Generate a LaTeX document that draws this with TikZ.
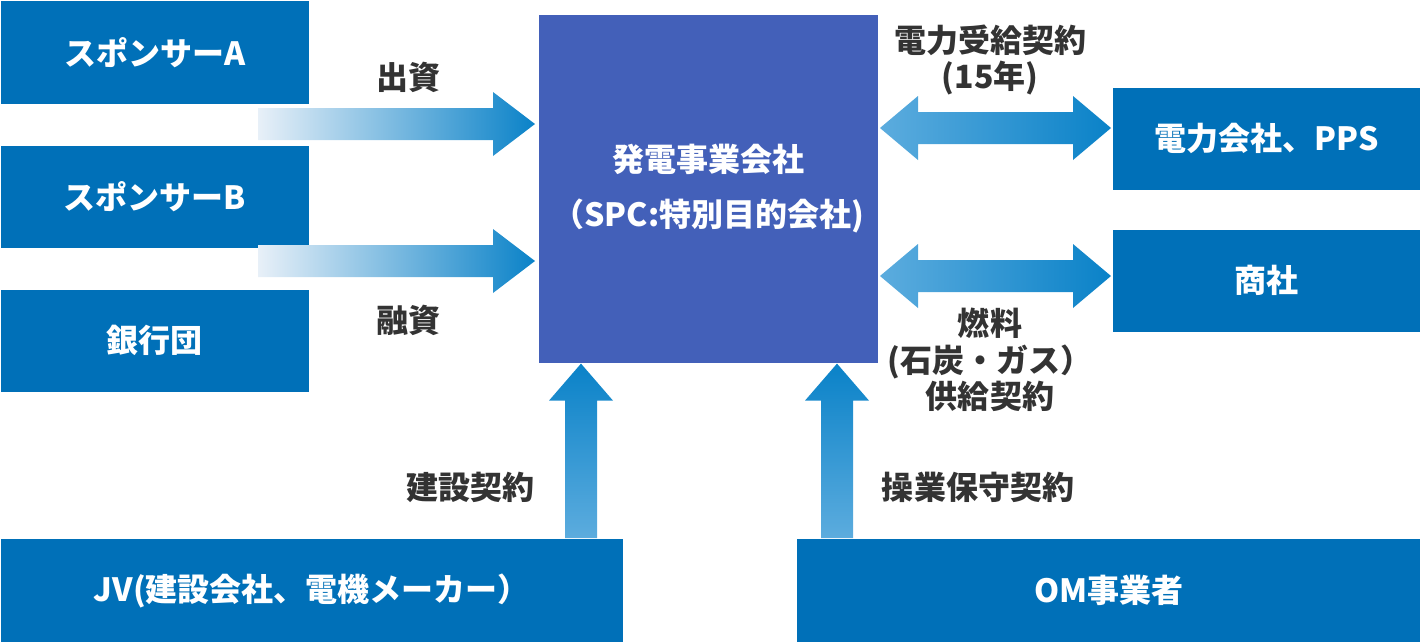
\documentclass[tikz,border=0pt]{standalone}
\usepackage{fontspec}
\setmainfont{Noto Sans CJK JP}
\usetikzlibrary{calc}
\definecolor{boxblue}{RGB}{0,112,184}
\definecolor{spcblue}{RGB}{67,96,185}
\definecolor{darkflow}{RGB}{10,130,200}
\definecolor{midflow}{RGB}{92,172,222}
\definecolor{paleflow}{RGB}{232,240,248}
\definecolor{labelgray}{RGB}{51,51,51}
% flow arrows drawn as shaded polygons
\newcommand{\flowright}[3]{%
  \shade[#3] ($(#1)+(0,-16)$) -- ($(#2)+(-42,-16)$) -- ($(#2)+(-42,-32)$) -- (#2)
    -- ($(#2)+(-42,32)$) -- ($(#2)+(-42,16)$) -- ($(#1)+(0,16)$) -- cycle;}
\newcommand{\flowboth}[3]{%
  \shade[#3] (#1) -- ($(#1)+(38,-32)$) -- ($(#1)+(38,-16)$) -- ($(#2)+(-38,-16)$)
    -- ($(#2)+(-38,-32)$) -- (#2) -- ($(#2)+(-38,32)$) -- ($(#2)+(-38,16)$)
    -- ($(#1)+(38,16)$) -- ($(#1)+(38,32)$) -- cycle;}
\newcommand{\flowup}[3]{%
  \shade[#3] ($(#1)+(-16,0)$) -- ($(#2)+(-16,37)$) -- ($(#2)+(-32,37)$) -- (#2)
    -- ($(#2)+(32,37)$) -- ($(#2)+(16,37)$) -- ($(#1)+(16,0)$) -- cycle;}
\begin{document}
\begin{tikzpicture}[x=0.01cm,y=-0.01cm,
  box/.style={fill=boxblue,text=white,font=\fontsize{9.1}{10.5}\selectfont\bfseries,
    inner sep=0pt,anchor=north west,minimum width=3.08cm,minimum height=1.02cm},
  lbl/.style={text=labelgray,font=\fontsize{9.1}{10.3}\selectfont\bfseries,align=center},
  toright/.style={left color=paleflow,right color=darkflow},
  twoway/.style={left color=midflow,right color=darkflow},
  upward/.style={top color=darkflow,bottom color=midflow}]
\useasboundingbox (0,0) rectangle (1420,642);

\node[box,minimum height=1.03cm] (sponsorA) at (0,0) {スポンサーA};
\node[box] (sponsorB) at (0,145) {スポンサーB};
\node[box] (bank) at (0,289) {銀行団};
\node[box,fill=spcblue,minimum width=3.39cm,minimum height=3.48cm,align=center,
  font=\fontsize{9.1}{15.6}\selectfont\bfseries] (spc) at (538,14)
  {発電事業会社\\（SPC:特別目的会社)};
\node[box] (power) at (1112,87) {電力会社、PPS};
\node[box] (trader) at (1112,229) {商社};
\node[box,minimum width=6.22cm,minimum height=1.04cm] (jv) at (0,538) {JV(建設会社、電機メーカー）};
\node[box,minimum width=6.24cm,minimum height=1.04cm] (om) at (796,538) {OM事業者};

% investment and loan
\coordinate (equity) at (258,124);
\coordinate (loan) at (258,261);
\flowright{equity}{$(spc.west |- equity)+(-3,0)$}{toright}
\flowright{loan}{$(spc.west |- loan)+(-3,0)$}{toright}

% contracts on the right
\coordinate (ppa) at (880,128);
\coordinate (fuel) at (880,276);
\flowboth{ppa}{$(power.west |- ppa)+(-1,0)$}{twoway}
\flowboth{fuel}{$(trader.west |- fuel)+(-1,0)$}{twoway}

% contracts from below
\coordinate (epc) at (581,538);
\coordinate (onm) at (837,538);
\flowup{epc}{spc.south -| epc}{upward}
\flowup{onm}{spc.south -| onm}{upward}

\node[lbl] (lequity) at (408,77) {出資};
\node[lbl] (lloan) at (408,320) {融資};
\node[lbl] (lppa) at (990,60) {電力受給契約\\(15年)};
\node[lbl] (lfuel) at (990,360) {燃料\\(石炭・ガス）\\供給契約};
\node[lbl] (lepc) at (470,487) {建設契約};
\node[lbl] (lonm) at (978,487) {操業保守契約};
\end{tikzpicture}
\end{document}
